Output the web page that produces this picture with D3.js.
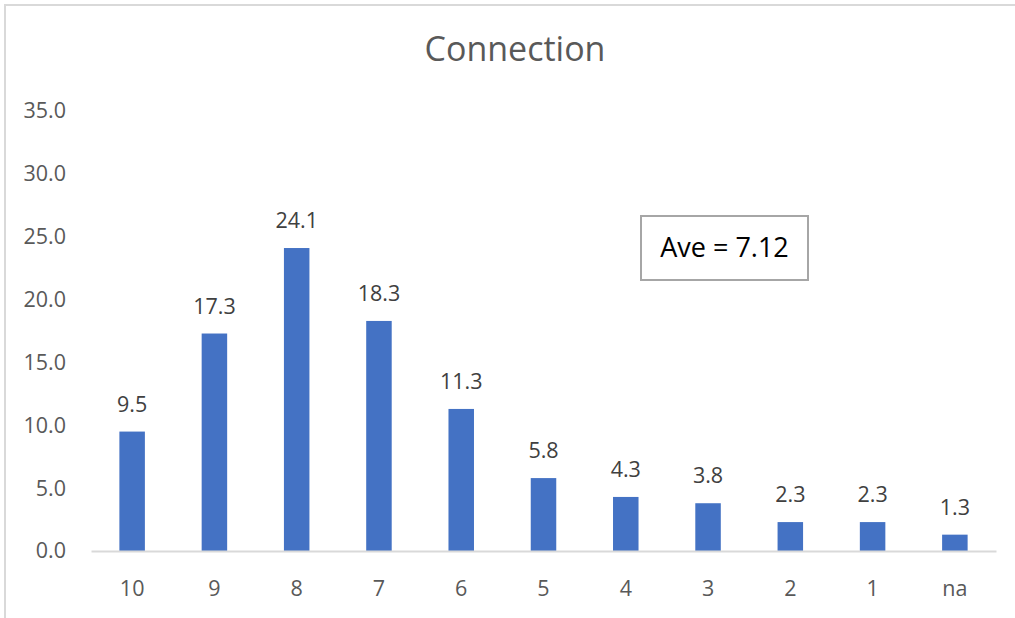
<!DOCTYPE html>
<html>
<head>
<meta charset="utf-8">
<script src="https://cdn.jsdelivr.net/npm/d3@7"></script>
<style>
  html, body { margin: 0; padding: 0; background: #fff; }
  svg { display: block; }
</style>
</head>
<body>
<svg id="chart" width="1015" height="618"></svg>
<script>
// Score categories and the share of responses for each (percent)
const categories = ["10", "9", "8", "7", "6", "5", "4", "3", "2", "1", "na"];
const values = [9.5, 17.3, 24.1, 18.3, 11.3, 5.8, 4.3, 3.8, 2.3, 2.3, 1.3];
const yTicks = [0, 5, 10, 15, 20, 25, 30, 35];
const chartTitle = "Connection";
const averageLabel = "Ave = 7.12";

const svg = d3.select("#chart");
const W = 1015, H = 618;
const font = "'Open Sans', 'Noto Sans', sans-serif";

// outer frame (top and left edges visible)
svg.append("path")
  .attr("d", `M5,${H} L5,5 L${W},5`)
  .attr("fill", "none")
  .attr("stroke", "#d9d9d9")
  .attr("stroke-width", 2);

const plot = { left: 91, right: 996, top: 111, bottom: 551 };

const x = d3.scaleBand()
  .domain(categories)
  .range([plot.left, plot.right])
  .paddingInner(0.69)
  .paddingOuter(0.345);

const y = d3.scaleLinear()
  .domain([0, 35])
  .range([plot.bottom, plot.top]);

// title
svg.append("text")
  .attr("x", 515)
  .attr("y", 61)
  .attr("text-anchor", "middle")
  .attr("font-family", font)
  .attr("font-size", 34)
  .attr("fill", "#595959")
  .text(chartTitle);

// y axis labels
const yAxis = d3.axisLeft(y)
  .tickValues(yTicks)
  .tickFormat(d3.format(".1f"))
  .tickSize(0)
  .tickPadding(25);
const gy = svg.append("g")
  .attr("transform", `translate(${plot.left},0)`)
  .call(yAxis);
gy.select(".domain").remove();
gy.selectAll("text")
  .attr("font-family", font)
  .attr("font-size", 21.5)
  .attr("fill", "#595959");

// bars
svg.append("g")
  .selectAll("rect")
  .data(values)
  .join("rect")
  .attr("x", (d, i) => x(categories[i]))
  .attr("y", d => y(d))
  .attr("width", x.bandwidth())
  .attr("height", d => y(0) - y(d))
  .attr("fill", "#4472c4");

// value labels
svg.append("g")
  .selectAll("text")
  .data(values)
  .join("text")
  .attr("x", (d, i) => x(categories[i]) + x.bandwidth() / 2)
  .attr("y", d => y(d) - 20)
  .attr("text-anchor", "middle")
  .attr("font-family", font)
  .attr("font-size", 21.5)
  .attr("fill", "#404040")
  .text(d => d3.format(".1f")(d));

// x axis
const xAxis = d3.axisBottom(x).tickSize(0).tickPadding(30);
const gx = svg.append("g")
  .attr("transform", `translate(0,${plot.bottom})`)
  .call(xAxis);
gx.select(".domain")
  .attr("stroke", "#d9d9d9")
  .attr("stroke-width", 2);
gx.selectAll("text")
  .attr("font-family", font)
  .attr("font-size", 21.5)
  .attr("fill", "#595959");

// average annotation box
const box = svg.append("g").attr("transform", "translate(641,216)");
box.append("rect")
  .attr("width", 167)
  .attr("height", 64)
  .attr("fill", "#fff")
  .attr("stroke", "#a6a6a6")
  .attr("stroke-width", 2);
box.append("text")
  .attr("x", 83.5)
  .attr("y", 41)
  .attr("text-anchor", "middle")
  .attr("font-family", font)
  .attr("font-size", 27)
  .attr("fill", "#000")
  .text(averageLabel);
</script>
</body>
</html>
